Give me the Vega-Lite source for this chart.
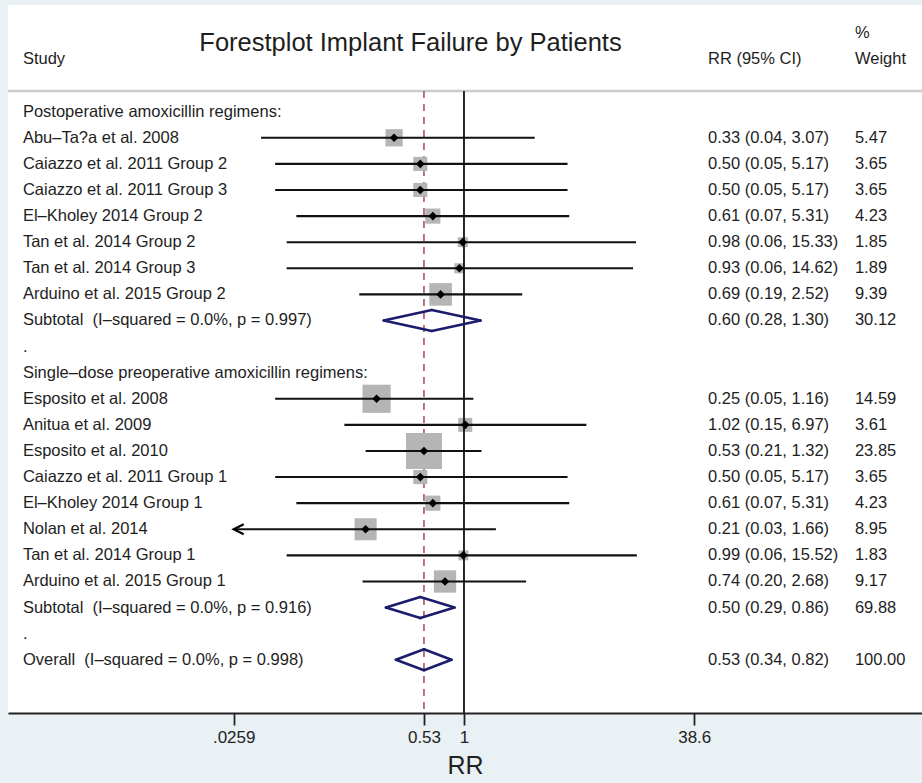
{
  "$schema": "https://vega.github.io/schema/vega-lite/v6.json",
  "width": 914,
  "height": 708,
  "autosize": {"type": "none"},
  "padding": {"left": 8, "top": 5, "right": 0, "bottom": 70},
  "background": "#e9f1f5",
  "config": {
    "view": {"fill": "white", "stroke": null},
    "font": "Liberation Sans",
    "text": {"font": "Liberation Sans", "color": "#1e1e1e"},
    "axisY": {"disable": true},
    "axisX": {"grid": false}
  },
  "datasets": {
    "studies": [
      {"row": 0, "kind": "group", "label": "Postoperative amoxicillin regimens:"},
      {"row": 1, "kind": "study", "label": "Abu–Ta?a et al. 2008", "est": 0.33, "lo": 0.04, "hi": 3.07, "rr_ci": "0.33 (0.04, 3.07)", "weight": 5.47},
      {"row": 2, "kind": "study", "label": "Caiazzo et al. 2011 Group 2", "est": 0.50, "lo": 0.05, "hi": 5.17, "rr_ci": "0.50 (0.05, 5.17)", "weight": 3.65},
      {"row": 3, "kind": "study", "label": "Caiazzo et al. 2011 Group 3", "est": 0.50, "lo": 0.05, "hi": 5.17, "rr_ci": "0.50 (0.05, 5.17)", "weight": 3.65},
      {"row": 4, "kind": "study", "label": "El–Kholey 2014 Group 2", "est": 0.61, "lo": 0.07, "hi": 5.31, "rr_ci": "0.61 (0.07, 5.31)", "weight": 4.23},
      {"row": 5, "kind": "study", "label": "Tan et al. 2014 Group 2", "est": 0.98, "lo": 0.06, "hi": 15.33, "rr_ci": "0.98 (0.06, 15.33)", "weight": 1.85},
      {"row": 6, "kind": "study", "label": "Tan et al. 2014 Group 3", "est": 0.93, "lo": 0.06, "hi": 14.62, "rr_ci": "0.93 (0.06, 14.62)", "weight": 1.89},
      {"row": 7, "kind": "study", "label": "Arduino et al. 2015 Group 2", "est": 0.69, "lo": 0.19, "hi": 2.52, "rr_ci": "0.69 (0.19, 2.52)", "weight": 9.39},
      {"row": 8, "kind": "summary", "label": "Subtotal\u00a0 (I–squared = 0.0%, p = 0.997)", "est": 0.60, "lo": 0.28, "hi": 1.30, "rr_ci": "0.60 (0.28, 1.30)", "weight": 30.12},
      {"row": 9, "kind": "group", "label": "."},
      {"row": 10, "kind": "group", "label": "Single–dose preoperative amoxicillin regimens:"},
      {"row": 11, "kind": "study", "label": "Esposito et al. 2008", "est": 0.25, "lo": 0.05, "hi": 1.16, "rr_ci": "0.25 (0.05, 1.16)", "weight": 14.59},
      {"row": 12, "kind": "study", "label": "Anitua et al. 2009", "est": 1.02, "lo": 0.15, "hi": 6.97, "rr_ci": "1.02 (0.15, 6.97)", "weight": 3.61},
      {"row": 13, "kind": "study", "label": "Esposito et al. 2010", "est": 0.53, "lo": 0.21, "hi": 1.32, "rr_ci": "0.53 (0.21, 1.32)", "weight": 23.85},
      {"row": 14, "kind": "study", "label": "Caiazzo et al. 2011 Group 1", "est": 0.50, "lo": 0.05, "hi": 5.17, "rr_ci": "0.50 (0.05, 5.17)", "weight": 3.65},
      {"row": 15, "kind": "study", "label": "El–Kholey 2014 Group 1", "est": 0.61, "lo": 0.07, "hi": 5.31, "rr_ci": "0.61 (0.07, 5.31)", "weight": 4.23},
      {"row": 16, "kind": "study", "label": "Nolan et al. 2014", "est": 0.21, "lo": 0.0259, "hi": 1.66, "rr_ci": "0.21 (0.03, 1.66)", "weight": 8.95},
      {"row": 17, "kind": "study", "label": "Tan et al. 2014 Group 1", "est": 0.99, "lo": 0.06, "hi": 15.52, "rr_ci": "0.99 (0.06, 15.52)", "weight": 1.83},
      {"row": 18, "kind": "study", "label": "Arduino et al. 2015 Group 1", "est": 0.74, "lo": 0.20, "hi": 2.68, "rr_ci": "0.74 (0.20, 2.68)", "weight": 9.17},
      {"row": 19, "kind": "summary", "label": "Subtotal\u00a0 (I–squared = 0.0%, p = 0.916)", "est": 0.50, "lo": 0.29, "hi": 0.86, "rr_ci": "0.50 (0.29, 0.86)", "weight": 69.88},
      {"row": 20, "kind": "group", "label": "."},
      {"row": 21, "kind": "summary", "label": "Overall\u00a0 (I–squared = 0.0%, p = 0.998)", "est": 0.53, "lo": 0.34, "hi": 0.82, "rr_ci": "0.53 (0.34, 0.82)", "weight": 100.00}
    ],
    "headers": [
      {"title": "Forestplot Implant Failure by Patients", "study": "Study", "rr": "RR (95% CI)", "pct": "%", "wt": "Weight"}
    ]
  },
  "data": {"name": "studies"},
  "layer": [
    {
      "data": {"name": "headers"},
      "mark": {"type": "rule", "color": "#cccccc", "strokeWidth": 2.5},
      "encoding": {
        "y": {"datum": -0.79, "type": "quantitative", "scale": {"domain": [-4.088, 23.04], "reverse": true, "zero": false, "nice": false}, "axis": null}
      }
    },
    {
      "data": {"name": "headers"},
      "mark": {"type": "text", "fontSize": 25.5, "align": "center", "baseline": "middle"},
      "encoding": {
        "x": {"datum": 0.428, "type": "quantitative", "scale": {"type": "log", "domain": [0.0007215, 1431.3], "nice": false}},
        "y": {"datum": -2.63, "type": "quantitative", "scale": {"domain": [-4.088, 23.04], "reverse": true, "zero": false, "nice": false}, "axis": null},
        "text": {"field": "title"}
      }
    },
    {
      "data": {"name": "headers"},
      "mark": {"type": "text", "fontSize": 16.5, "align": "left", "baseline": "middle"},
      "encoding": {
        "x": {"datum": 0.000914, "type": "quantitative", "scale": {"type": "log", "domain": [0.0007215, 1431.3], "nice": false}},
        "y": {"datum": -2.01, "type": "quantitative", "scale": {"domain": [-4.088, 23.04], "reverse": true, "zero": false, "nice": false}, "axis": null},
        "text": {"field": "study"}
      }
    },
    {
      "data": {"name": "headers"},
      "mark": {"type": "text", "fontSize": 16.5, "align": "left", "baseline": "middle"},
      "encoding": {
        "x": {"datum": 48.0, "type": "quantitative", "scale": {"type": "log", "domain": [0.0007215, 1431.3], "nice": false}},
        "y": {"datum": -2.01, "type": "quantitative", "scale": {"domain": [-4.088, 23.04], "reverse": true, "zero": false, "nice": false}, "axis": null},
        "text": {"field": "rr"}
      }
    },
    {
      "data": {"name": "headers"},
      "mark": {"type": "text", "fontSize": 16.5, "align": "left", "baseline": "middle"},
      "encoding": {
        "x": {"datum": 494, "type": "quantitative", "scale": {"type": "log", "domain": [0.0007215, 1431.3], "nice": false}},
        "y": {"datum": -3.02, "type": "quantitative", "scale": {"domain": [-4.088, 23.04], "reverse": true, "zero": false, "nice": false}, "axis": null},
        "text": {"field": "pct"}
      }
    },
    {
      "data": {"name": "headers"},
      "mark": {"type": "text", "fontSize": 16.5, "align": "left", "baseline": "middle"},
      "encoding": {
        "x": {"datum": 494, "type": "quantitative", "scale": {"type": "log", "domain": [0.0007215, 1431.3], "nice": false}},
        "y": {"datum": -2.01, "type": "quantitative", "scale": {"domain": [-4.088, 23.04], "reverse": true, "zero": false, "nice": false}, "axis": null},
        "text": {"field": "wt"}
      }
    },
    {
      "transform": [{"filter": "indexof(datum.label, 'Overall') == 0"}],
      "mark": {"type": "rule", "color": "#a9545f", "strokeWidth": 1.6, "strokeDash": [7, 6]},
      "encoding": {
        "x": {"field": "est", "type": "quantitative", "scale": {"type": "log", "domain": [0.0007215, 1431.3], "nice": false}},
        "y": {"datum": -0.79, "type": "quantitative", "scale": {"domain": [-4.088, 23.04], "reverse": true, "zero": false, "nice": false}, "axis": null},
        "y2": {"datum": 23.04}
      }
    },
    {
      "transform": [{"filter": "datum.kind == 'study'"}],
      "mark": {"type": "point", "shape": "square", "filled": true, "color": "#b5b5b5", "opacity": 1, "strokeWidth": 0},
      "encoding": {
        "x": {"field": "est", "type": "quantitative", "scale": {"type": "log", "domain": [0.0007215, 1431.3], "nice": false}},
        "y": {"field": "row", "type": "quantitative", "scale": {"domain": [-4.088, 23.04], "reverse": true, "zero": false, "nice": false}, "axis": null},
        "size": {"field": "weight", "type": "quantitative", "scale": {"type": "linear", "domain": [0, 100], "range": [0, 5430]}, "legend": null}
      }
    },
    {
      "data": {"name": "headers"},
      "mark": {"type": "rule", "color": "#111111", "strokeWidth": 1.8},
      "encoding": {
        "x": {"datum": 1, "type": "quantitative", "scale": {"type": "log", "domain": [0.0007215, 1431.3], "nice": false}},
        "y": {"datum": -0.79, "type": "quantitative", "scale": {"domain": [-4.088, 23.04], "reverse": true, "zero": false, "nice": false}, "axis": null},
        "y2": {"datum": 23.04}
      }
    },
    {
      "transform": [{"filter": "datum.kind == 'study'"}],
      "mark": {"type": "rule", "color": "#111111", "strokeWidth": 2.1},
      "encoding": {
        "x": {
          "field": "lo",
          "type": "quantitative",
          "scale": {"type": "log", "domain": [0.0007215, 1431.3], "nice": false},
          "axis": {
            "title": "RR",
            "values": [0.0259, 0.53, 1, 38.6],
            "labelExpr": "datum.value < 0.1 ? '.0259' : datum.value < 0.9 ? '0.53' : datum.value < 2 ? '1' : '38.6'",
            "grid": false,
            "domainColor": "#222222",
            "domainWidth": 1.8,
            "tickColor": "#222222",
            "tickWidth": 1.8,
            "tickSize": 12,
            "labelFont": "Liberation Sans",
            "labelFontSize": 17,
            "labelColor": "#222222",
            "labelPadding": 4,
            "labelOverlap": false,
            "labelFlush": false,
            "titleFont": "Liberation Sans",
            "titleFontSize": 25,
            "titleFontWeight": "normal",
            "titleColor": "#222222",
            "titlePadding": 8
          }
        },
        "x2": {"field": "hi"},
        "y": {"field": "row", "type": "quantitative", "scale": {"domain": [-4.088, 23.04], "reverse": true, "zero": false, "nice": false}, "axis": null}
      }
    },
    {
      "transform": [{"filter": "datum.kind == 'study'"}],
      "mark": {"type": "point", "shape": "diamond", "filled": true, "color": "#000000", "opacity": 1, "size": 75},
      "encoding": {
        "x": {"field": "est", "type": "quantitative", "scale": {"type": "log", "domain": [0.0007215, 1431.3], "nice": false}},
        "y": {"field": "row", "type": "quantitative", "scale": {"domain": [-4.088, 23.04], "reverse": true, "zero": false, "nice": false}, "axis": null}
      }
    },
    {
      "transform": [{"filter": "datum.kind == 'study' && datum.lo <= 0.0259"}],
      "mark": {"type": "point", "shape": "M 2 -1 L 0 0 L 2 1", "filled": false, "color": "#000000", "opacity": 1, "strokeWidth": 2.2, "size": 100},
      "encoding": {
        "x": {"field": "lo", "type": "quantitative", "scale": {"type": "log", "domain": [0.0007215, 1431.3], "nice": false}},
        "y": {"field": "row", "type": "quantitative", "scale": {"domain": [-4.088, 23.04], "reverse": true, "zero": false, "nice": false}, "axis": null}
      }
    },
    {
      "transform": [{"filter": "datum.kind == 'summary'"}],
      "mark": {"type": "rule", "color": "#1c1c6c", "strokeWidth": 2.6, "strokeCap": "round", "y2Offset": -10.5},
      "encoding": {
        "x": {"field": "lo", "type": "quantitative", "scale": {"type": "log", "domain": [0.0007215, 1431.3], "nice": false}},
        "x2": {"field": "est"},
        "y": {"field": "row", "type": "quantitative", "scale": {"domain": [-4.088, 23.04], "reverse": true, "zero": false, "nice": false}, "axis": null},
        "y2": {"field": "row"}
      }
    },
    {
      "transform": [{"filter": "datum.kind == 'summary'"}],
      "mark": {"type": "rule", "color": "#1c1c6c", "strokeWidth": 2.6, "strokeCap": "round", "y2Offset": 10.5},
      "encoding": {
        "x": {"field": "lo", "type": "quantitative", "scale": {"type": "log", "domain": [0.0007215, 1431.3], "nice": false}},
        "x2": {"field": "est"},
        "y": {"field": "row", "type": "quantitative", "scale": {"domain": [-4.088, 23.04], "reverse": true, "zero": false, "nice": false}, "axis": null},
        "y2": {"field": "row"}
      }
    },
    {
      "transform": [{"filter": "datum.kind == 'summary'"}],
      "mark": {"type": "rule", "color": "#1c1c6c", "strokeWidth": 2.6, "strokeCap": "round", "yOffset": -10.5},
      "encoding": {
        "x": {"field": "est", "type": "quantitative", "scale": {"type": "log", "domain": [0.0007215, 1431.3], "nice": false}},
        "x2": {"field": "hi"},
        "y": {"field": "row", "type": "quantitative", "scale": {"domain": [-4.088, 23.04], "reverse": true, "zero": false, "nice": false}, "axis": null},
        "y2": {"field": "row"}
      }
    },
    {
      "transform": [{"filter": "datum.kind == 'summary'"}],
      "mark": {"type": "rule", "color": "#1c1c6c", "strokeWidth": 2.6, "strokeCap": "round", "yOffset": 10.5},
      "encoding": {
        "x": {"field": "est", "type": "quantitative", "scale": {"type": "log", "domain": [0.0007215, 1431.3], "nice": false}},
        "x2": {"field": "hi"},
        "y": {"field": "row", "type": "quantitative", "scale": {"domain": [-4.088, 23.04], "reverse": true, "zero": false, "nice": false}, "axis": null},
        "y2": {"field": "row"}
      }
    },
    {
      "mark": {"type": "text", "fontSize": 16.5, "align": "left", "baseline": "middle"},
      "encoding": {
        "x": {"datum": 0.000914, "type": "quantitative", "scale": {"type": "log", "domain": [0.0007215, 1431.3], "nice": false}},
        "y": {"field": "row", "type": "quantitative", "scale": {"domain": [-4.088, 23.04], "reverse": true, "zero": false, "nice": false}, "axis": null},
        "text": {"field": "label"}
      }
    },
    {
      "transform": [{"filter": "datum.kind != 'group'"}],
      "mark": {"type": "text", "fontSize": 16.5, "align": "left", "baseline": "middle"},
      "encoding": {
        "x": {"datum": 48.0, "type": "quantitative", "scale": {"type": "log", "domain": [0.0007215, 1431.3], "nice": false}},
        "y": {"field": "row", "type": "quantitative", "scale": {"domain": [-4.088, 23.04], "reverse": true, "zero": false, "nice": false}, "axis": null},
        "text": {"field": "rr_ci"}
      }
    },
    {
      "transform": [{"filter": "datum.kind != 'group'"}],
      "mark": {"type": "text", "fontSize": 16.5, "align": "left", "baseline": "middle"},
      "encoding": {
        "x": {"datum": 494, "type": "quantitative", "scale": {"type": "log", "domain": [0.0007215, 1431.3], "nice": false}},
        "y": {"field": "row", "type": "quantitative", "scale": {"domain": [-4.088, 23.04], "reverse": true, "zero": false, "nice": false}, "axis": null},
        "text": {"field": "weight", "format": ".2f"}
      }
    }
  ]
}
